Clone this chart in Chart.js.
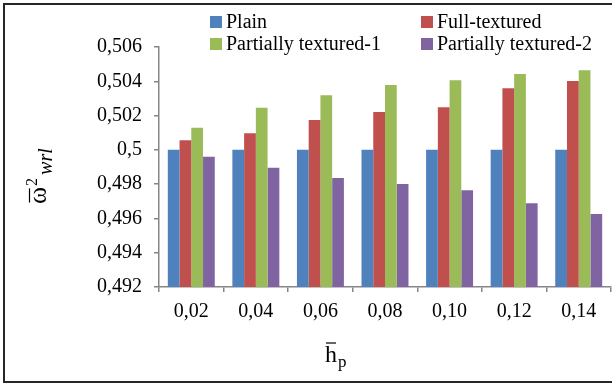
<!DOCTYPE html>
<html>
<head>
<meta charset="utf-8">
<script src="https://cdn.jsdelivr.net/npm/chart.js@4/dist/chart.umd.min.js"></script>
<style>
  html, body { margin: 0; padding: 0; background: #fff; }
  canvas { display: block; }
</style>
</head>
<body>
<canvas id="chart" width="612" height="385"></canvas>
<script>
// Relative film thickness values
const categories = ['0,02', '0,04', '0,06', '0,08', '0,10', '0,12', '0,14'];
const plain = [0.5, 0.5, 0.5, 0.5, 0.5, 0.5, 0.5];
const fullTextured = [0.50056, 0.50097, 0.50174, 0.50221, 0.50248, 0.50359, 0.50402];
const partiallyTextured1 = [0.50129, 0.50246, 0.50318, 0.50378, 0.50406, 0.50443, 0.50464];
const partiallyTextured2 = [0.4996, 0.49896, 0.49836, 0.49801, 0.49764, 0.49688, 0.49626];

const seriesNames = ['Plain', 'Full-textured', 'Partially textured-1', 'Partially textured-2'];
const seriesColors = ['#4F81BD', '#C0504D', '#9BBB59', '#8064A2'];

const yTickValues = [0.492, 0.494, 0.496, 0.498, 0.5, 0.502, 0.504, 0.506];
const yTickLabels = ['0,492', '0,494', '0,496', '0,498', '0,5', '0,502', '0,504', '0,506'];

const FONT = '"Liberation Serif", "Times New Roman", serif';
const AXIS_GREY = '#868686';

const seriesValues = [plain, fullTextured, partiallyTextured1, partiallyTextured2];

// White page with a dark frame around it
const framePlugin = {
  id: 'frame',
  beforeDraw(chart) {
    const ctx = chart.ctx;
    ctx.save();
    ctx.fillStyle = '#fff';
    ctx.fillRect(0, 0, chart.width, chart.height);
    ctx.strokeStyle = '#262626';
    ctx.lineWidth = 2;
    ctx.strokeRect(4, 4, 700, 378);
    ctx.restore();
  }
};

// Two-column legend above the plot
const legendPlugin = {
  id: 'gridLegend',
  afterDraw(chart) {
    const ctx = chart.ctx;
    const cols = [210, 421];
    const rows = [16, 38];
    ctx.save();
    ctx.font = '20px ' + FONT;
    ctx.textBaseline = 'alphabetic';
    ctx.textAlign = 'left';
    chart.data.datasets.forEach((ds, i) => {
      const x = cols[i % 2];
      const y = rows[Math.floor(i / 2)];
      ctx.fillStyle = ds.backgroundColor;
      ctx.fillRect(x, y, 12, 12);
      ctx.fillStyle = '#000';
      ctx.fillText(ds.label, x + 16, y + 12);
    });
    ctx.restore();
  }
};

// Axis titles with overbars, superscript and subscripts
const axisTitlePlugin = {
  id: 'axisTitles',
  afterDraw(chart) {
    const ctx = chart.ctx;
    ctx.save();
    ctx.fillStyle = '#000';
    ctx.strokeStyle = '#000';
    ctx.lineWidth = 1.2;
    ctx.textBaseline = 'alphabetic';
    ctx.textAlign = 'left';

    // vertical title: omega-bar squared, subscript wrl
    ctx.save();
    ctx.translate(46, 204);
    ctx.rotate(-Math.PI / 2);
    ctx.font = '26px ' + FONT;
    ctx.fillText('\u03C9', 0, 0);
    const wW = ctx.measureText('\u03C9').width;
    ctx.beginPath();
    ctx.moveTo(1.5, -16.5);
    ctx.lineTo(wW - 1.5, -16.5);
    ctx.stroke();
    ctx.font = '16px ' + FONT;
    ctx.fillText('2', wW + 1, -9);
    const twoW = ctx.measureText('2').width;
    ctx.font = 'italic 20px ' + FONT;
    ctx.fillText('wrl', wW + twoW + 4, 6);
    ctx.restore();

    // horizontal title: h-bar with subscript p
    ctx.font = '24px ' + FONT;
    ctx.fillText('h', 325, 362);
    const hW = ctx.measureText('h').width;
    ctx.beginPath();
    ctx.moveTo(326, 343);
    ctx.lineTo(325 + hW - 1, 343);
    ctx.stroke();
    ctx.font = '17px ' + FONT;
    ctx.fillText('p', 325 + hW + 1, 367);
    ctx.restore();
  }
};

new Chart(document.getElementById('chart'), {
  type: 'bar',
  data: {
    labels: categories,
    datasets: seriesNames.map((name, i) => ({
      label: name,
      data: seriesValues[i],
      backgroundColor: seriesColors[i],
      borderWidth: 0,
      categoryPercentage: 4 / 5.5,
      barPercentage: 1
    }))
  },
  options: {
    responsive: false,
    animation: false,
    devicePixelRatio: 1,
    layout: { padding: { top: 47, right: 1, left: 0, bottom: 0 } },
    plugins: {
      legend: { display: false },
      title: { display: false },
      tooltip: { enabled: false }
    },
    scales: {
      x: {
        afterFit(scale) { scale.height = 98; },
        grid: {
          drawOnChartArea: false,
          drawTicks: true,
          tickLength: 5,
          color: AXIS_GREY,
          lineWidth: 1.5
        },
        border: { color: AXIS_GREY, width: 1.5 },
        ticks: {
          color: '#000',
          font: { family: FONT, size: 20 },
          padding: 8,
          maxRotation: 0
        }
      },
      y: {
        min: 0.492,
        max: 0.506,
        afterFit(scale) { scale.width = 159; },
        afterBuildTicks(scale) {
          scale.ticks = yTickValues.map(v => ({ value: v }));
        },
        grid: {
          drawOnChartArea: false,
          drawTicks: true,
          tickLength: 5,
          color: AXIS_GREY,
          lineWidth: 1.5
        },
        border: { color: AXIS_GREY, width: 1.5 },
        ticks: {
          color: '#000',
          font: { family: FONT, size: 20 },
          padding: 12,
          callback: (value, index) => yTickLabels[index]
        }
      }
    }
  },
  plugins: [framePlugin, legendPlugin, axisTitlePlugin]
});
</script>
</body>
</html>
